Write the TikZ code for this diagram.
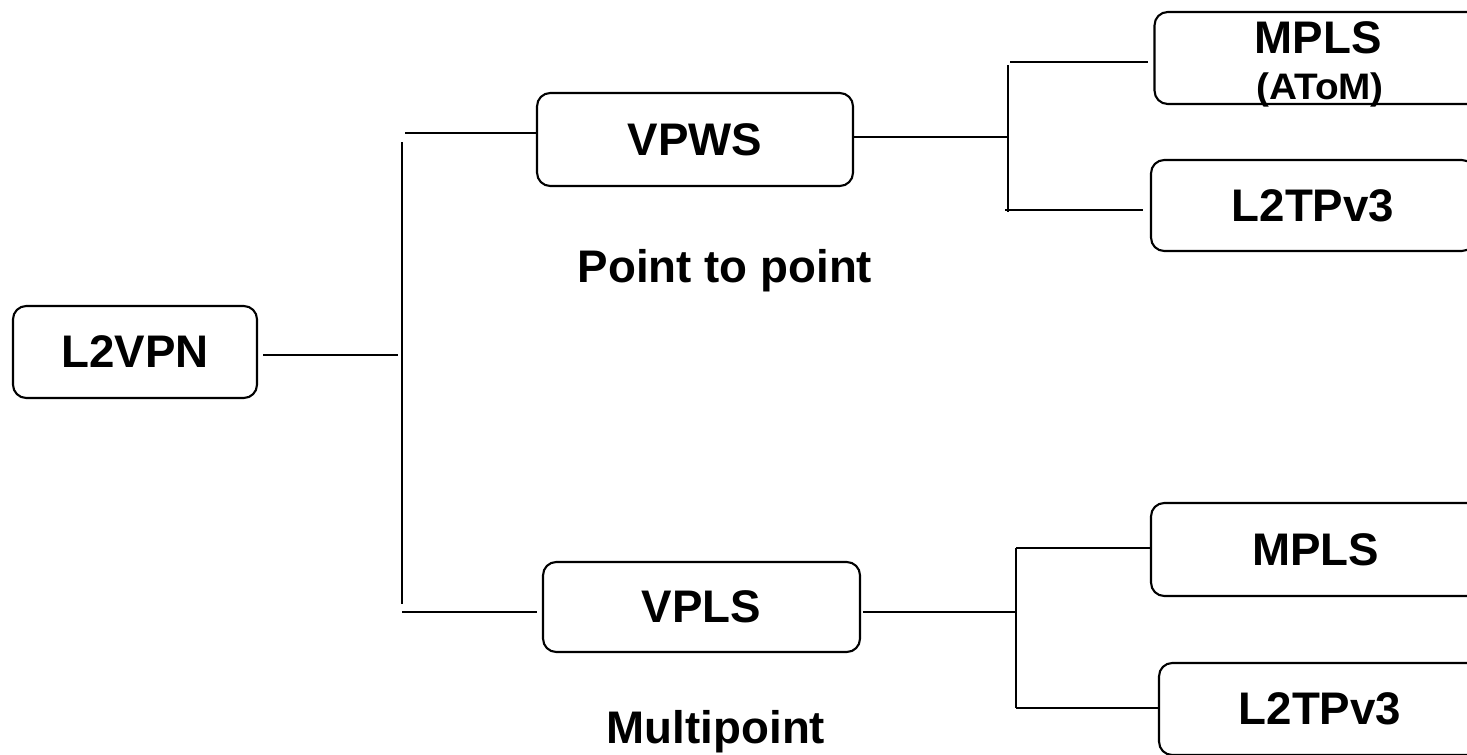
\documentclass[tikz,border=0pt]{standalone}
\usepackage{fontspec}
\setmainfont{Liberation Sans}
\usetikzlibrary{positioning, calc}

\tikzset{
  box/.style={draw, line width=1.2pt, rounded corners=7.5pt, inner sep=0pt,
    minimum height=1.84cm, font=\bfseries\fontsize{26}{30}\selectfont},
  boxtext/.style={inner sep=0pt, font=\bfseries\fontsize{26}{30}\selectfont},
  smalltext/.style={inner sep=0pt, font=\bfseries\fontsize{21}{24}\selectfont},
  link/.style={line width=1.2pt}
}

\begin{document}
\begin{tikzpicture}[x=0.02cm, y=-0.02cm]
      \useasboundingbox (0, 0) rectangle (1467, 754);
      \clip (0, 0) rectangle (1467, 754);

      % root and the two services
      \node[box, minimum width=4.88cm] (l2vpn) at (135, 352) {L2VPN};
      \node[box, minimum width=6.32cm, minimum height=1.86cm] (vpws) at (695, 139.5) {VPWS};
      \node[box, minimum width=6.34cm, minimum height=1.80cm] (vpls) at (701.5, 607) {VPLS};

      \node[boxtext, anchor=base] (p2p) at (725, 282) {Point to point};
      \node[boxtext, anchor=base] (mp) at (716, 743) {Multipoint};

      % transports, cut at the right edge
      \node[box, minimum width=6.70cm] (mplsA) at (1322, 58) {};
      \node[boxtext, anchor=base] (mplsAtxt) at (1318, 53) {MPLS};
      \node[smalltext, anchor=base, xscale=1.05] (atom) at (1320, 99) {(AToM)};
      \node[box, minimum width=6.48cm, minimum height=1.82cm] (l2tpA) at (1313, 205.5) {L2TPv3};
      \node[box, minimum width=6.58cm, minimum height=1.86cm] (mplsB) at (1315.5, 549.5) {MPLS};
      \node[box, minimum width=6.44cm] (l2tpB) at (1320, 709) {L2TPv3};

      % trunk points
      \coordinate (j0) at (398, 355);
      \coordinate (t1) at (402, 142);
      \coordinate (t2) at (402, 604);
      \coordinate (b1) at (405, 133);
      \coordinate (b2) at (402, 612);
      \coordinate (s1) at (1008, 137);
      \coordinate (u1) at (1008, 65);
      \coordinate (u2) at (1008, 212);
      \coordinate (s2) at (1016, 612);
      \coordinate (v1) at (1016, 548);
      \coordinate (v2) at (1016, 708);

      \draw[link, shorten <=3pt] (l2vpn.east |- j0) -- (j0);
      \draw[link] (t1) -- (t2);
      \draw[link] (b1) -- (vpws.west |- b1);
      \draw[link, shorten >=3pt] (b2) -- (vpls.west |- b2);

      \draw[link] (vpws.east |- s1) -- (s1);
      \draw[link] (u1) -- (u2);
      \draw[link, shorten <=1pt, shorten >=3pt] (u1 |- mplsA.west) ++(0, 4) -- ($(mplsA.west) + (0, 4)$);
      \draw[link, shorten >=4pt] (1005, 210) -- (l2tpA.west |- 0, 210);

      \draw[link, shorten <=1pt] (vpls.east |- s2) -- (s2);
      \draw[link] (v1) -- (v2);
      \draw[link] (v1) -- (mplsB.west |- v1);
      \draw[link] (v2) -- (l2tpB.west |- v2);
    \end{tikzpicture}
\end{document}
